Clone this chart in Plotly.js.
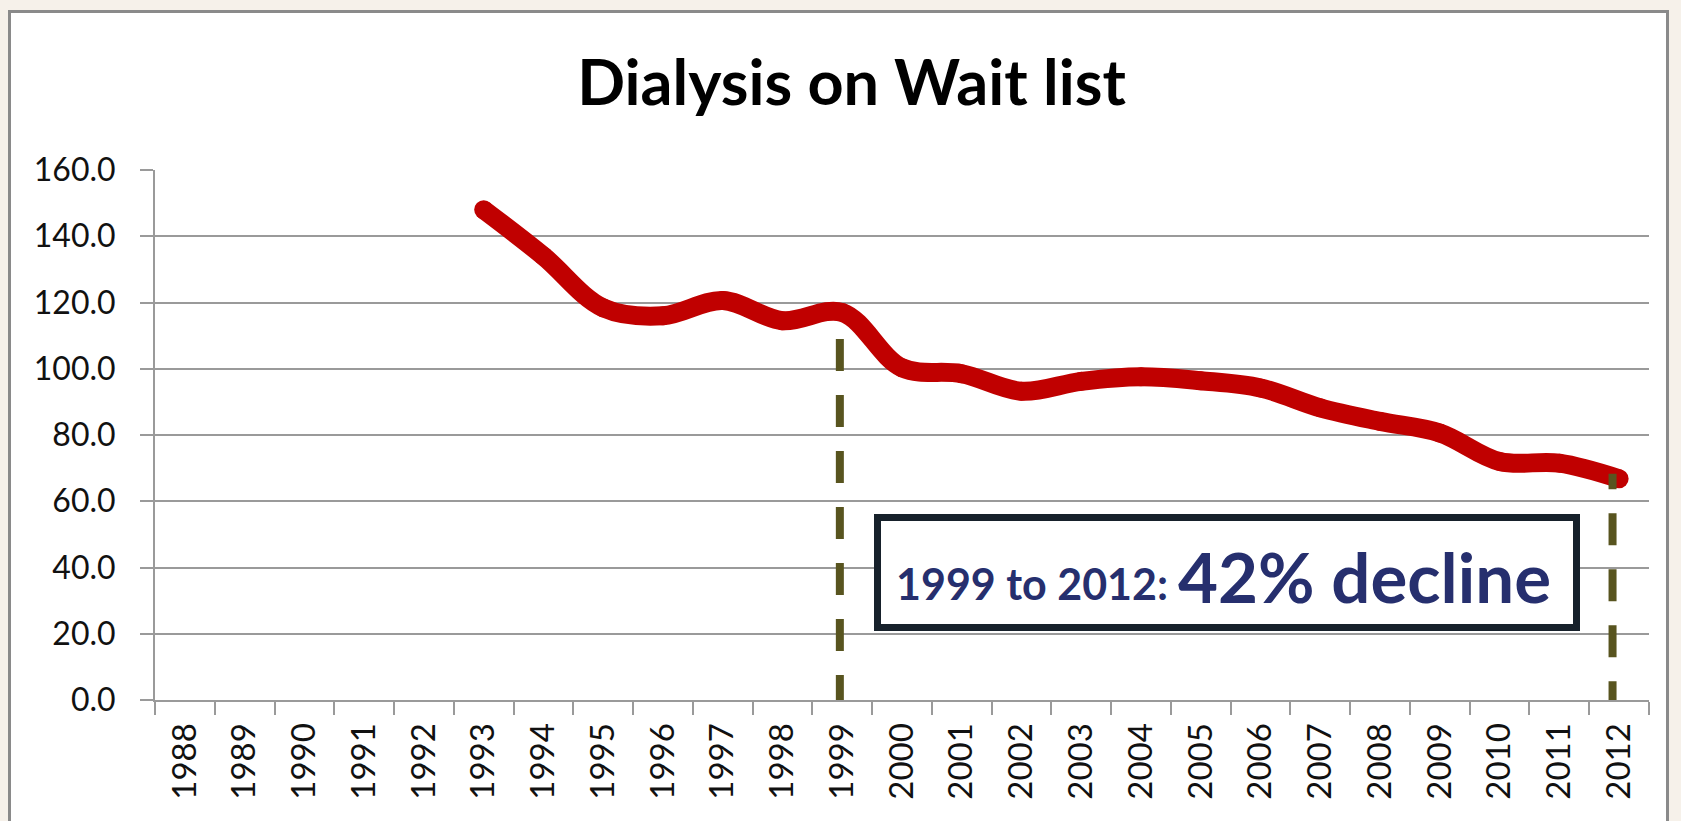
<!DOCTYPE html>
<html>
<head>
<meta charset="utf-8">
<script src="https://cdn.plot.ly/plotly-3.0.1.min.js"></script>
<style>
  html, body { margin: 0; padding: 0; width: 1681px; height: 821px; overflow: hidden; background: #f6f1ea; }
  #frame { position: absolute; left: 8px; top: 10px; width: 1655px; height: 900px; background: #ffffff; border: 3px solid #8a8a8a; }
  #chart { position: absolute; left: 0; top: 0; width: 1681px; height: 821px; }
</style>
</head>
<body>
<div id="frame"></div>
<div id="chart"></div>
<script>
// ---- data ----
const years = ['1988','1989','1990','1991','1992','1993','1994','1995','1996','1997','1998','1999',
               '2000','2001','2002','2003','2004','2005','2006','2007','2008','2009','2010','2011','2012'];
const waitlist = [null, null, null, null, null, 148.0, 134.0, 118.4, 116.0, 120.6, 114.5, 117.0,
                  100.3, 98.5, 93.2, 96.2, 97.6, 96.4, 94.2, 88.2, 84.1, 80.6, 72.0, 71.5, 66.8];
const yTicks = [0, 20, 40, 60, 80, 100, 120, 140, 160];
const chartTitle = 'Dialysis on Wait list';
const noteSmall = '1999 to 2012:';
const noteBig = '42% decline';
const guideYears = ['1999', '2012'];
const guideTops = [109, 68.3];

// ---- layout helpers (pixel -> paper) ----
const W = 1681, H = 821;
const M = { l: 155, r: 32, t: 170, b: 121 };
const PW = W - M.l - M.r, PH = H - M.t - M.b;
const xp = px => (px - M.l) / PW;
const yp = py => (H - M.b - py) / PH;

const navy = '#262f6e';

const shapes = [];
// annotation box
shapes.push({
  type: 'rect', xref: 'paper', yref: 'paper',
  x0: xp(877.5), x1: xp(1576.5), y0: yp(627.5), y1: yp(517.5),
  line: { color: '#17212b', width: 7 }, fillcolor: '#ffffff', layer: 'above'
});
// dashed guide lines
const guideShift = [-0.04, -0.11];
guideYears.forEach((yr, k) => {
  const idx = years.indexOf(yr) + guideShift[k];
  shapes.push({
    type: 'line', xref: 'x', yref: 'y',
    x0: idx, x1: idx, y0: -2.1 - 1.9 * k, y1: guideTops[k],
    line: { color: '#58541f', width: 8, dash: '32px,24px' }, layer: 'above'
  });
});

const trace = {
  x: years, y: waitlist, type: 'scatter', mode: 'lines+markers',
  line: { color: '#c00000', width: 19, shape: 'spline', smoothing: 1 },
  marker: { color: '#c00000', size: 19 },
  connectgaps: false, hoverinfo: 'skip', showlegend: false
};

const layout = {
  width: W, height: H,
  margin: M,
  paper_bgcolor: 'rgba(0,0,0,0)',
  plot_bgcolor: 'rgba(0,0,0,0)',
  font: { family: 'Lato, "Open Sans", sans-serif', color: '#111111' },
  title: {
    text: chartTitle,
    font: { family: 'Lato, sans-serif', size: 63, weight: 700, color: '#000000' },
    xref: 'container', yref: 'container',
    x: 851.5 / W, xanchor: 'center',
    y: 1 - 83 / H, yanchor: 'middle'
  },
  xaxis: {
    type: 'category', categoryorder: 'array', categoryarray: years,
    range: [-0.5, years.length - 0.5],
    tickson: 'boundaries', ticks: 'outside', ticklen: 13, tickwidth: 2, tickcolor: '#9a9a9a',
    showline: true, linecolor: '#9a9a9a', linewidth: 2,
    showgrid: false, zeroline: false,
    tickangle: -90, tickfont: { family: 'Lato, sans-serif', size: 33, color: '#111111' },
    ticklabelstandoff: 8, fixedrange: true
  },
  yaxis: {
    range: [0, 160], tickvals: yTicks, tickformat: '.1f',
    ticks: 'outside', ticklen: 13, tickwidth: 2, tickcolor: '#9a9a9a',
    showline: true, linecolor: '#9a9a9a', linewidth: 2,
    showgrid: true, gridcolor: '#9a9a9a', gridwidth: 2, zeroline: false,
    tickfont: { family: 'Lato, sans-serif', size: 32, color: '#111111' },
    ticklabelstandoff: 18, fixedrange: true
  },
  shapes: shapes,
  annotations: [
    {
      xref: 'paper', yref: 'paper', x: xp(894), y: yp(583), xanchor: 'left', yanchor: 'middle',
      text: noteSmall, showarrow: false,
      font: { family: 'Lato, sans-serif', size: 43, weight: 700, color: navy }
    },
    {
      xref: 'paper', yref: 'paper', x: xp(1176), y: yp(576), xanchor: 'left', yanchor: 'middle',
      text: noteBig, showarrow: false,
      font: { family: 'Lato, sans-serif', size: 69, weight: 700, color: navy }
    }
  ]
};

Plotly.newPlot('chart', [trace], layout, { displayModeBar: false, staticPlot: true });
</script>
</body>
</html>
